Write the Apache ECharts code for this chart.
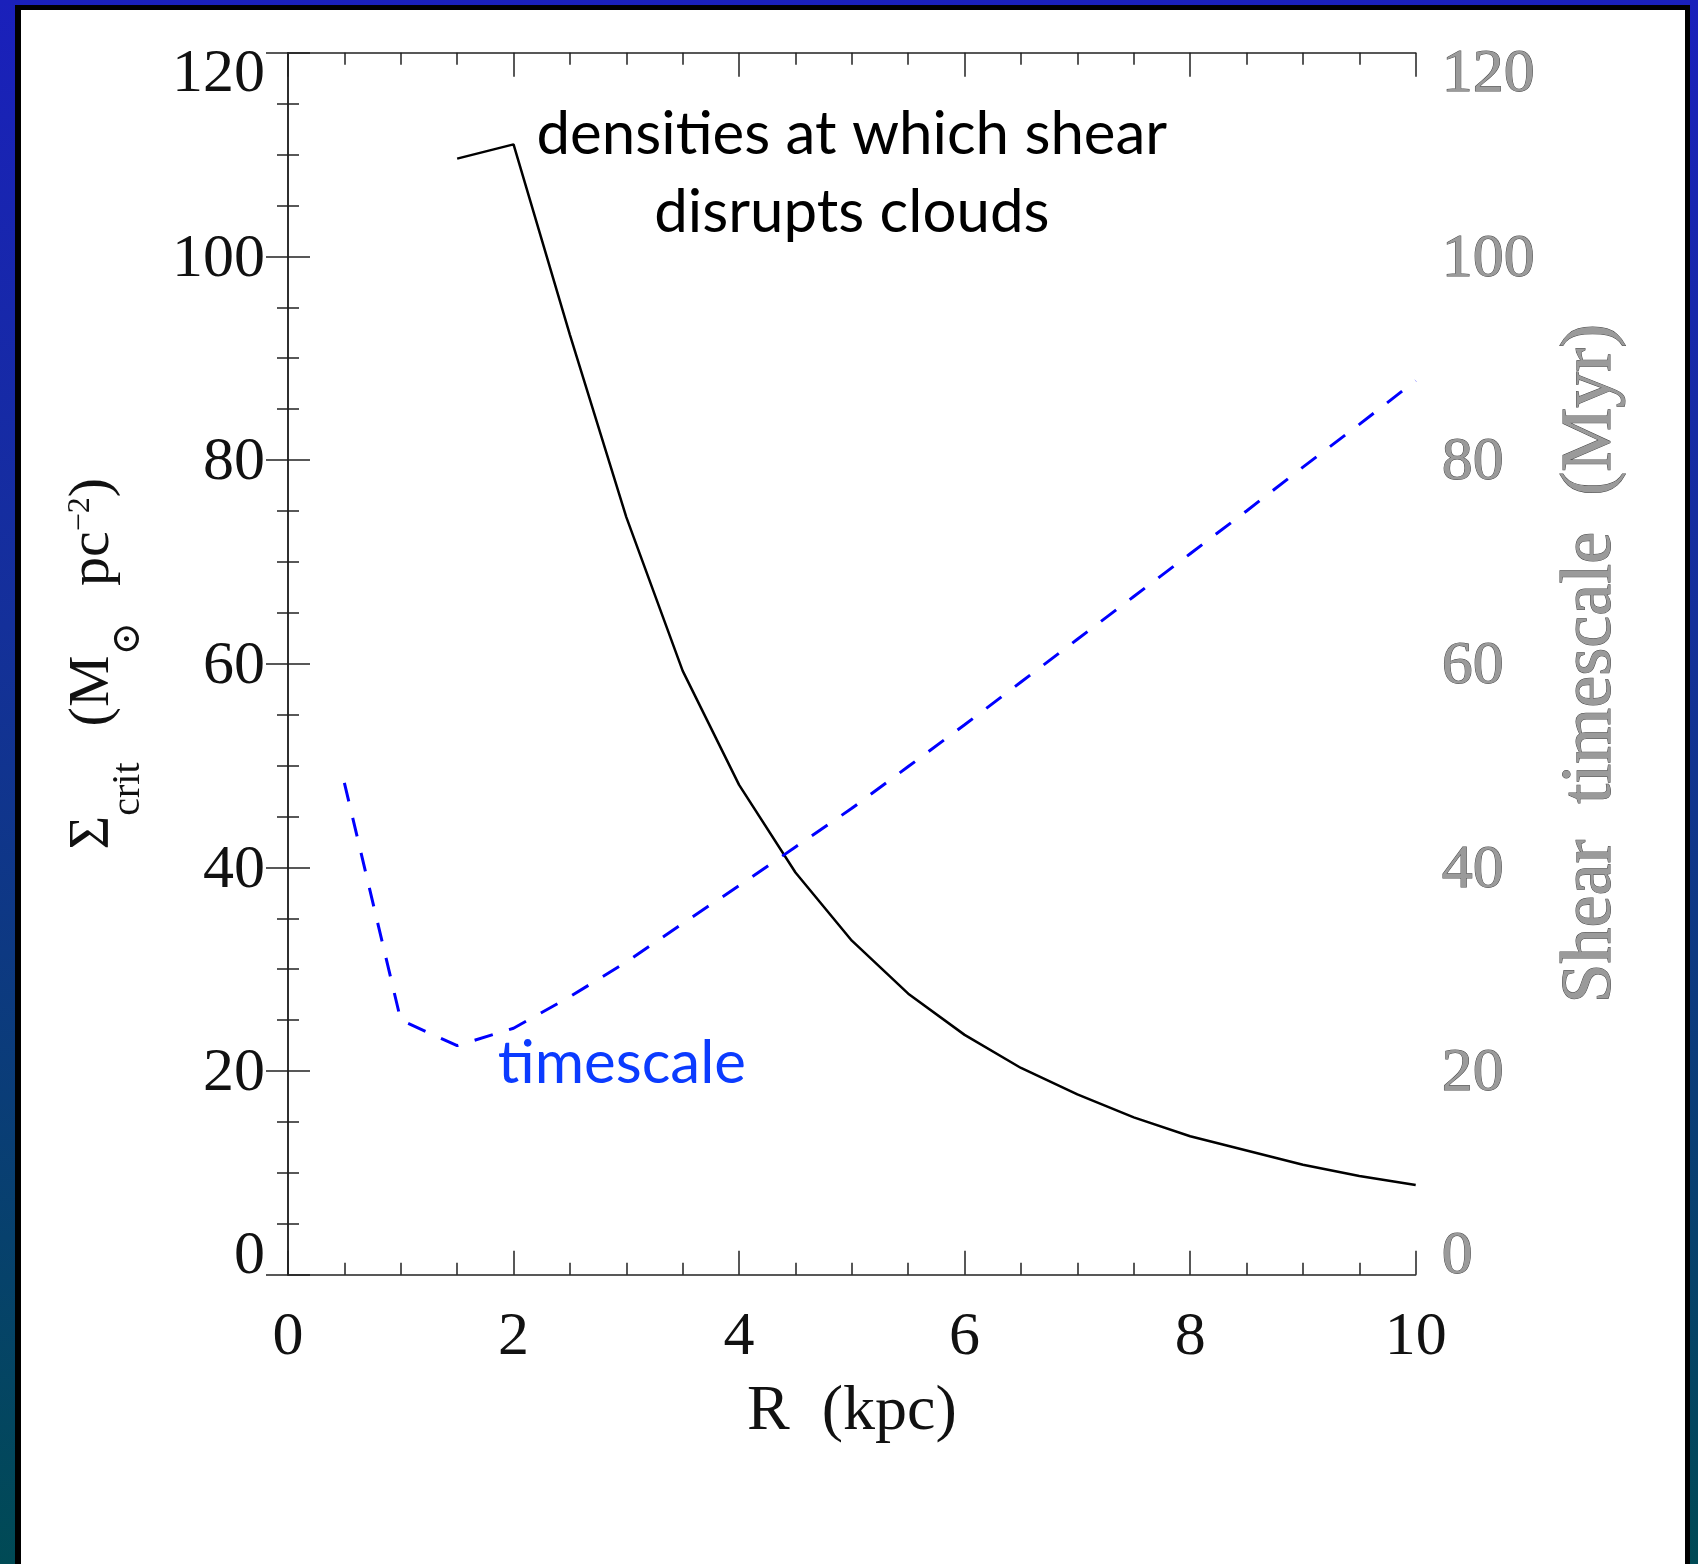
<!DOCTYPE html>
<html>
<head>
<meta charset="utf-8">
<script src="https://cdn.jsdelivr.net/npm/echarts@6/dist/echarts.min.js"></script>
<style>
  html, body { margin: 0; padding: 0; width: 1698px; height: 1564px; overflow: hidden; }
  body { background: linear-gradient(to bottom, #1a20bb 0%, #14309a 40%, #004a55 100%); position: relative; }
  #frame { position: absolute; left: 15px; top: 5px; width: 1675px; height: 1620px; box-sizing: border-box;
           border: 5px solid #000; border-left-width: 6px; background: #fff; }
  #chart { position: absolute; left: 0; top: 0; width: 1698px; height: 1564px; }
</style>
</head>
<body>
<div id="frame"></div>
<div id="chart"></div>
<script>
// Critical surface density above which shear cannot disrupt a cloud (M_sun pc^-2)
const radiusCrit = [1.5, 2.0, 2.5, 3.0, 3.5, 4.0, 4.5, 5.0, 5.5, 6.0, 6.5, 7.0, 7.5, 8.0, 8.5, 9.0, 9.5, 10.0];
const sigmaCrit  = [109.6, 111.0, 92.3, 74.4, 59.3, 48.1, 39.5, 32.8, 27.6, 23.55, 20.3, 17.7, 15.45, 13.6, 12.2, 10.8, 9.7, 8.8];

// Shear timescale (Myr)
const radiusShear = [0.5, 1.0, 1.5, 2.0, 2.5, 3.0, 3.5, 4.0, 4.5, 5.0, 5.5, 6.0, 6.5, 7.0, 7.5, 8.0, 8.5, 9.0, 9.5, 10.0];
const shearTime   = [48.3, 25.0, 22.5, 24.2, 27.3, 30.7, 34.5, 38.2, 42.0, 45.8, 49.9, 54.0, 58.2, 62.4, 66.6, 70.8, 75.0, 79.3, 83.5, 87.8];

// Axis ranges
const xRange = { min: 0, max: 10, step: 2 };
const yRange = { min: 0, max: 120, step: 20 };

// Annotation texts and their anchor points in data units
const shearNote = 'densities at which shear\ndisrupts clouds';
const shearNoteAt = [5.0, 108.1];
const timeNote = 'timescale';
const timeNoteAt = [1.86, 20.7];

const toPairs = (xs, ys) => xs.map((x, i) => [x, ys[i]]);

const SERIF = '"Liberation Serif", "DejaVu Serif", serif';
const SANS = 'Lato, "Open Sans", sans-serif';
const axisColor = '#222';
const greyFill = '#9a9a9a';
const greyEdge = '#4a4a4a';

function tickRich(color, border) {
  const base = { fontFamily: SERIF, fontSize: 62, color: color };
  if (border) { base.textBorderColor = border; base.textBorderWidth = 1; }
  return {
    n:  Object.assign({}, base, { padding: [6, 0, 0, 0] }),
    hi: Object.assign({}, base, { padding: [44, 0, 0, 0] }),
    lo: Object.assign({}, base, { padding: [0, 0, 36, 0] })
  };
}
function tickFormatter(v) {
  if (v === yRange.max) return '{hi|' + v + '}';
  if (v === yRange.min) return '{lo|' + v + '}';
  return '{n|' + v + '}';
}

const yCommon = {
  type: 'value', min: yRange.min, max: yRange.max, interval: yRange.step,
  splitLine: { show: false },
  axisLine: { show: true, lineStyle: { color: axisColor, width: 1.5 } },
  axisTick: { show: true, inside: true, length: 22, lineStyle: { color: axisColor, width: 1.5 } },
  minorTick: { show: true, splitNumber: 4, length: 11, lineStyle: { color: axisColor, width: 1.5 } },
  nameLocation: 'middle'
};

const chart = echarts.init(document.getElementById('chart'), null, { renderer: 'canvas' });
chart.setOption({
  animation: false,
  backgroundColor: 'transparent',
  grid: { left: 288, right: 282.3, top: 52.7, bottom: 289.3, containLabel: false },
  xAxis: [
    {
      type: 'value', position: 'bottom', min: xRange.min, max: xRange.max, interval: xRange.step,
      splitLine: { show: false },
      axisLine: { show: true, onZero: false, lineStyle: { color: axisColor, width: 1.5 } },
      axisTick: { show: true, inside: true, length: 24, lineStyle: { color: axisColor, width: 1.5 } },
      minorTick: { show: true, splitNumber: 4, length: 12, lineStyle: { color: axisColor, width: 1.5 } },
      axisLabel: { show: true, margin: 32, fontFamily: SERIF, fontSize: 62, color: '#111' },
      name: 'R  (kpc)', nameLocation: 'middle', nameGap: 105,
      nameTextStyle: { fontFamily: SERIF, fontSize: 64, color: '#111' }
    },
    {
      type: 'value', position: 'top', min: xRange.min, max: xRange.max, interval: xRange.step,
      splitLine: { show: false },
      axisLine: { show: true, onZero: false, lineStyle: { color: axisColor, width: 1.5 } },
      axisTick: { show: true, inside: true, length: 24, lineStyle: { color: axisColor, width: 1.5 } },
      minorTick: { show: true, splitNumber: 4, length: 12, lineStyle: { color: axisColor, width: 1.5 } },
      axisLabel: { show: false }
    }
  ],
  yAxis: [
    Object.assign({}, yCommon, {
      position: 'left',
      axisLabel: { show: true, margin: 23, formatter: tickFormatter, rich: tickRich('#111') },
      name: '{s|Σ}{sb|crit}{sp| }{m|(M}{sb|⊙}{sp| }{m|pc}{su|−2}{m|)}',
      nameGap: 140,
      nameTextStyle: {
        fontFamily: SERIF, color: '#111',
        rich: {
          s:  { fontFamily: SERIF, fontSize: 58, lineHeight: 110, verticalAlign: 'middle', color: '#111' },
          m:  { fontFamily: SERIF, fontSize: 58, lineHeight: 110, verticalAlign: 'middle', color: '#111' },
          sb: { fontFamily: SERIF, fontSize: 40, lineHeight: 70, verticalAlign: 'bottom', color: '#111' },
          su: { fontFamily: SERIF, fontSize: 32, verticalAlign: 'middle', padding: [0, 0, 24, 0], color: '#111' },
          sp: { width: 36, lineHeight: 110 }
        }
      }
    }),
    Object.assign({}, yCommon, {
      position: 'right',
      axisLabel: { show: true, margin: 26, formatter: tickFormatter, rich: tickRich(greyFill, greyEdge) },
      name: 'Shear  timescale  (Myr)',
      nameGap: 139,
      nameTextStyle: { fontFamily: SERIF, fontSize: 72, color: greyFill, textBorderColor: greyEdge, textBorderWidth: 1 }
    })
  ],
  series: [
    {
      name: 'critical density', type: 'line', xAxisIndex: 0, yAxisIndex: 0,
      data: toPairs(radiusCrit, sigmaCrit),
      showSymbol: false, symbol: 'none', smooth: false,
      lineStyle: { color: '#000', width: 2.5 },
      markPoint: {
        silent: true, symbol: 'circle', symbolSize: 1, itemStyle: { color: 'rgba(0,0,0,0)' },
        label: {
          show: true, position: 'inside', formatter: shearNote, align: 'center', verticalAlign: 'middle',
          fontFamily: SANS, fontSize: 60, lineHeight: 78, color: '#000'
        },
        data: [{ coord: shearNoteAt }]
      }
    },
    {
      name: 'shear timescale', type: 'line', xAxisIndex: 0, yAxisIndex: 1,
      data: toPairs(radiusShear, shearTime),
      showSymbol: false, symbol: 'none', smooth: false,
      lineStyle: { color: '#0000ff', width: 3, type: [19, 17] },
      markPoint: {
        silent: true, symbol: 'circle', symbolSize: 1, itemStyle: { color: 'rgba(0,0,0,0)' },
        label: {
          show: true, position: 'inside', formatter: timeNote, align: 'left', verticalAlign: 'middle',
          fontFamily: SANS, fontSize: 60, color: '#0b3bff'
        },
        data: [{ coord: timeNoteAt }]
      }
    }
  ]
});
</script>
</body>
</html>
